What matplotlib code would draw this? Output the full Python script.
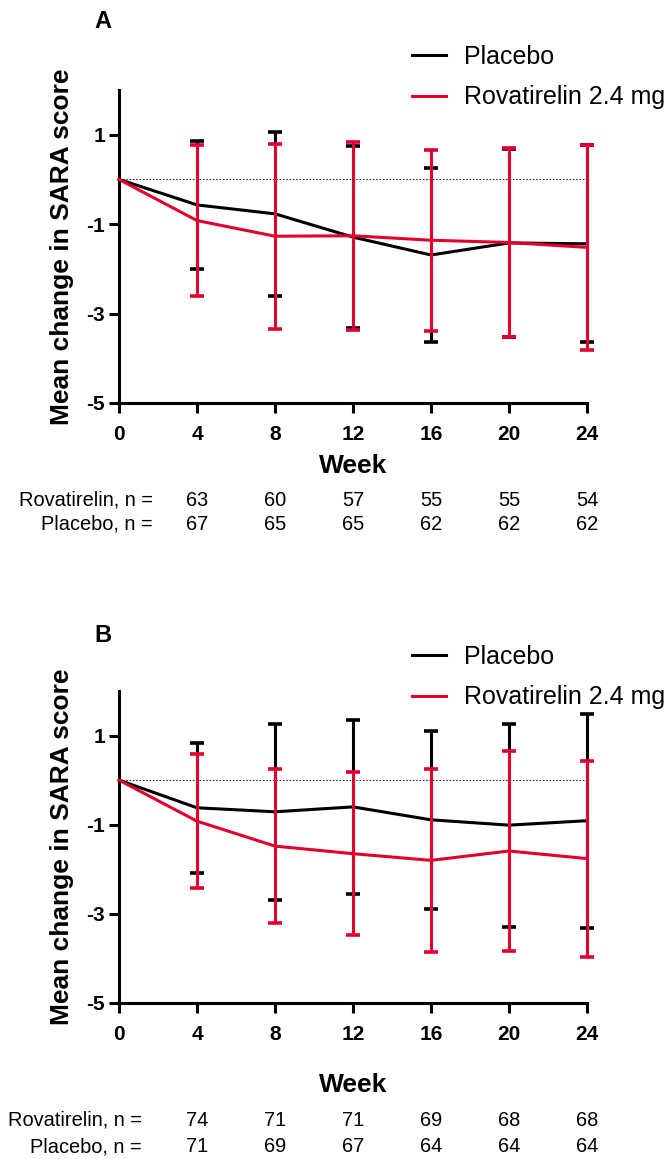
import matplotlib
matplotlib.use("Agg")
import matplotlib.pyplot as plt
from matplotlib.lines import Line2D
import numpy as np

plt.rcParams['font.family'] = ['Liberation Sans', 'DejaVu Sans']

weeks = [0, 4, 8, 12, 16, 20, 24]

# Panel A
a_placebo_mean = [0, -0.57, -0.77, -1.29, -1.69, -1.42, -1.44]
a_placebo_sd = [0, 1.43, 1.84, 2.03, 1.95, 2.11, 2.20]
a_rova_mean = [0, -0.92, -1.27, -1.26, -1.36, -1.41, -1.52]
a_rova_sd = [0, 1.68, 2.07, 2.10, 2.02, 2.12, 2.30]
a_n_rova = [63, 60, 57, 55, 55, 54]
a_n_placebo = [67, 65, 65, 62, 62, 62]

# Panel B
b_placebo_mean = [0, -0.62, -0.71, -0.60, -0.89, -1.01, -0.91]
b_placebo_sd = [0, 1.46, 1.97, 1.96, 1.99, 2.28, 2.40]
b_rova_mean = [0, -0.92, -1.48, -1.65, -1.80, -1.59, -1.76]
b_rova_sd = [0, 1.50, 1.72, 1.83, 2.05, 2.25, 2.20]
b_n_rova = [74, 71, 71, 69, 68, 68]
b_n_placebo = [71, 69, 67, 64, 64, 64]

yticks = [-5, -3, -1, 1]
RED = '#E2002F'
BLACK = '#000000'

W, H = 672, 1159
fig = plt.figure(figsize=(W / 100, H / 100), dpi=100)


def fx(px):
    return px / W


def fy(py):
    return 1 - py / H


def panel(top_px, bot_px, letter, letter_y, pm, psd, rm, rsd, n_r, n_p,
          n_y1, n_y2, lab_right, leg_y, week_y):
    ax = fig.add_axes([fx(119), fy(bot_px), fx(587) - fx(119), (bot_px - top_px) / H])
    ax.set_xlim(0, 24)
    ax.set_ylim(-5, 2)
    ax.axhline(0, color='#333333', lw=0.8, ls=(0, (1.5, 1.5)), zorder=1)
    ax.errorbar(weeks[1:], pm[1:], yerr=psd[1:], fmt='none', ecolor=BLACK,
                elinewidth=2.2, capsize=5, capthick=2.6, zorder=2, clip_on=False)
    ax.plot(weeks, pm, color=BLACK, lw=2.2, zorder=3, clip_on=False)
    ax.errorbar(weeks[1:], rm[1:], yerr=rsd[1:], fmt='none', ecolor=RED,
                elinewidth=2.2, capsize=5, capthick=2.6, zorder=4, clip_on=False)
    ax.plot(weeks, rm, color=RED, lw=2.2, zorder=5, clip_on=False)
    for s in ['top', 'right']:
        ax.spines[s].set_visible(False)
    for s in ['left', 'bottom']:
        ax.spines[s].set_linewidth(2.2)
    ax.set_xticks(weeks)
    ax.set_yticks(yticks)
    ax.set_yticklabels([str(t) for t in yticks])
    ax.tick_params(axis='both', direction='out', length=7, width=2.2,
                   labelsize=15)
    ax.tick_params(axis='x', pad=9)
    ax.tick_params(axis='y', pad=3)
    for lab in ax.get_xticklabels() + ax.get_yticklabels():
        lab.set_fontweight('bold')
    h = bot_px - top_px
    ax.set_xlabel('Week', fontsize=19, fontweight='bold', va='center')
    ax.xaxis.set_label_coords(0.5, (bot_px - week_y) / h)
    ax.set_ylabel('Mean change in SARA score', fontsize=19, fontweight='bold',
                  va='center')
    ax.yaxis.set_label_coords((62 - 119) / 468, 0.5 + (top_px + h / 2 - 248) / h * 0)
    fig.text(fx(94), fy(letter_y), letter, fontsize=17, fontweight='bold',
             ha='left', va='center')
    handles = [Line2D([], [], color=BLACK, lw=2.2), Line2D([], [], color=RED, lw=2.2)]
    fig.legend(handles, ['Placebo', 'Rovatirelin 2.4 mg'], frameon=False,
               loc='upper left', bbox_to_anchor=(fx(412), fy(leg_y)),
               fontsize=18, handlelength=1.35, handletextpad=0.75,
               labelspacing=0.65, borderaxespad=0, borderpad=0)
    # n table
    fig.text(fx(lab_right), fy(n_y1), 'Rovatirelin, n =', fontsize=14.4,
             ha='right', va='center')
    fig.text(fx(lab_right), fy(n_y2), 'Placebo, n =', fontsize=14.4,
             ha='right', va='center')
    for wk, nr, npb in zip(weeks[1:], n_r, n_p):
        xp = ax.transData.transform((wk, 0))[0]
        xf = fig.transFigure.inverted().transform((xp, 0))[0]
        fig.text(xf, fy(n_y1), str(nr), fontsize=14.4, ha='center', va='center')
        fig.text(xf, fy(n_y2), str(npb), fontsize=14.4, ha='center', va='center')
    return ax


panel(90, 403, 'A', 21, a_placebo_mean, a_placebo_sd, a_rova_mean, a_rova_sd,
      a_n_rova, a_n_placebo, 500, 524, 153, 45, 466)
panel(691, 1003, 'B', 636, b_placebo_mean, b_placebo_sd, b_rova_mean, b_rova_sd,
      b_n_rova, b_n_placebo, 1120, 1147, 142, 645, 1085)

fig.savefig('out.png', dpi=100)
